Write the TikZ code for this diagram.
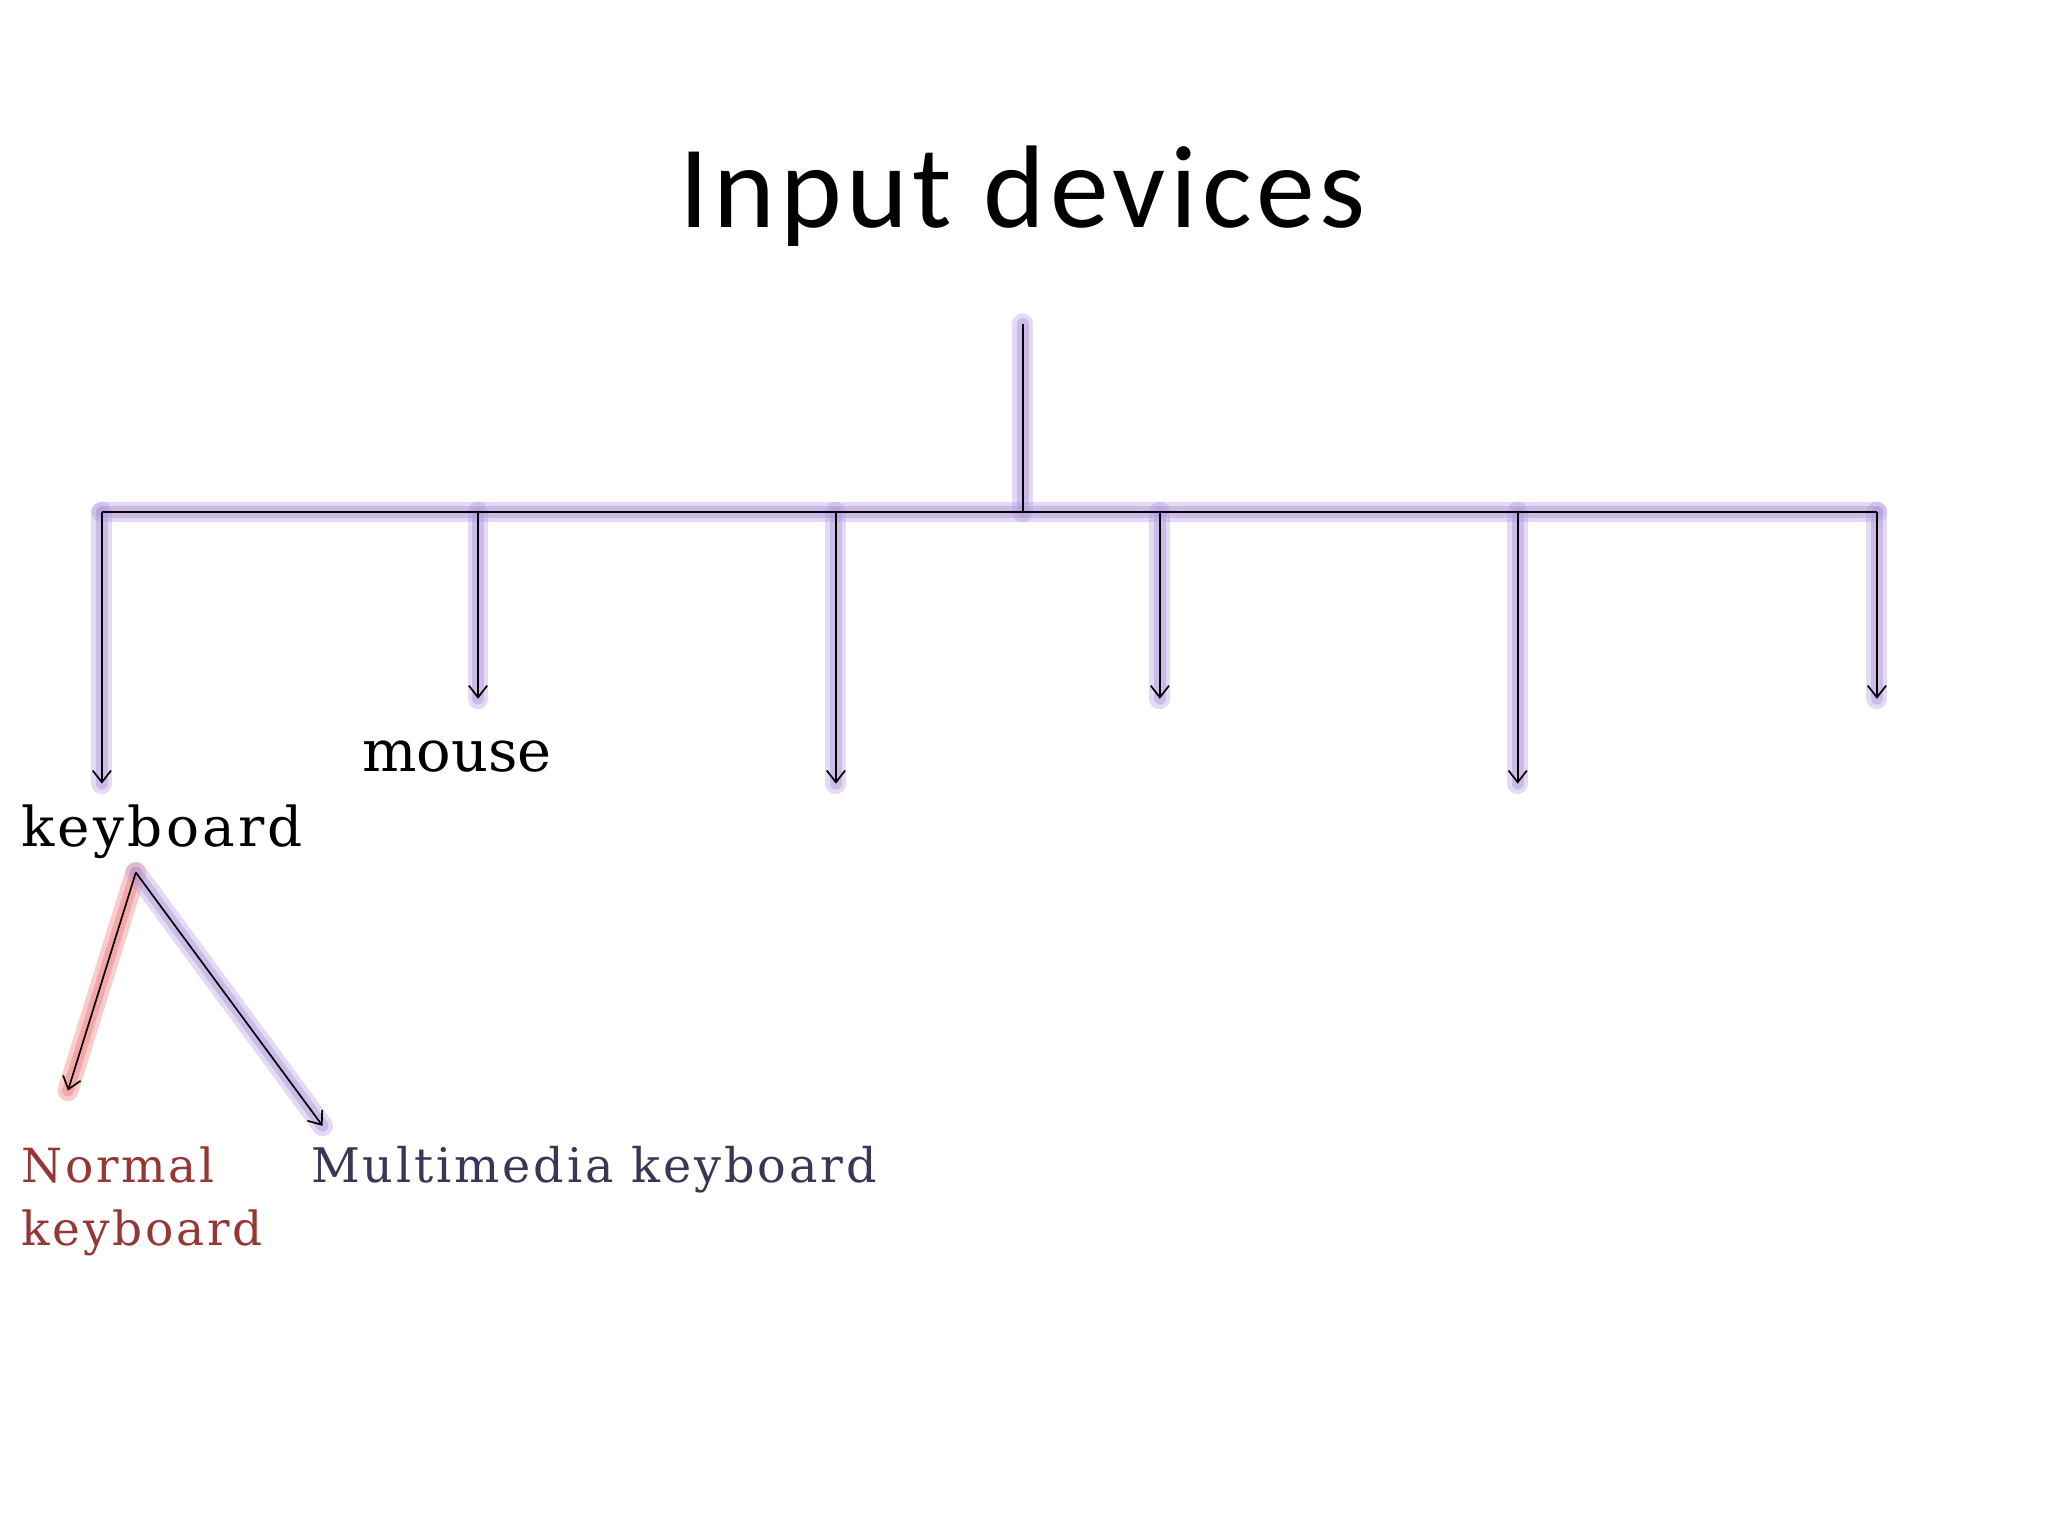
\documentclass[tikz,border=0pt]{standalone}
\usepackage{fontspec}
\setmainfont{Liberation Serif}
\newfontfamily\titlefont[LetterSpace=4]{Carlito}
\newfontfamily\serifsp[LetterSpace=6]{DejaVu Serif}
\newfontfamily\serifn{DejaVu Serif}
\usetikzlibrary{arrows.meta}
\definecolor{glowp}{RGB}{175,150,220}
\definecolor{glowr}{RGB}{240,130,130}
\definecolor{redtxt}{RGB}{149,55,53}
\definecolor{navytxt}{RGB}{59,53,88}
\begin{document}
\begin{tikzpicture}[x=1pt,y=-1pt,
  glow/.style={line width=16pt,draw=glowp,opacity=0.35,line cap=round,
    postaction={draw=glowp,line width=9pt,opacity=0.45}},
  glowred/.style={line width=16pt,draw=glowr,opacity=0.4,line cap=round,
    postaction={draw=glowr,line width=9pt,opacity=0.5}},
  conn/.style={line width=1.3pt,black},
  arr/.style={conn,-{Straight Barb[length=9pt,width=14pt]}},
  lab/.style={inner sep=0pt,anchor=base west}]
\useasboundingbox (0,0) rectangle (1568,1176);
\node[inner sep=0pt] (title) at (783,150) {\titlefont\fontsize{90}{100}\selectfont Input devices};
\coordinate (top) at (783,248);
\coordinate (mid) at (783,392);
\coordinate (L) at (78,392);
\coordinate (R) at (1437,392);
\foreach \n/\x in {a/78,b/366,c/640,d/888,e/1162,f/1437}{\coordinate (h\n) at (\x,392);}
\coordinate (ea) at (78,600);
\coordinate (eb) at (366,535);
\coordinate (ec) at (640,600);
\coordinate (ed) at (888,535);
\coordinate (ee) at (1162,600);
\coordinate (ef) at (1437,535);
\draw[glow] (top) -- (mid);
\draw[glow] (L) -- (R);
\foreach \n in {a,b,c,d,e,f}{\draw[glow] (h\n) -- (e\n);}
\draw[conn] (top) -- (mid);
\draw[conn] (L) -- (R);
\foreach \n in {a,b,c,d,e,f}{\draw[arr] (h\n) -- (e\n);}
\node[lab] (mouse) at (277,591) {\serifn\fontsize{44}{50}\selectfont mouse};
\node[lab] (kb) at (16,648) {\serifsp\fontsize{42}{48}\selectfont keyboard};
\coordinate (kp) at (104,668);
\coordinate (nk) at (52,835);
\coordinate (mk) at (247,862);
\draw[glowred] (kp) -- (nk);
\draw[glow] (kp) -- (mk);
\draw[arr] (kp) -- (nk);
\draw[arr] (kp) -- (mk);
\node[lab,text=redtxt,align=left,anchor=north west,font=\serifsp\fontsize{36}{48}\selectfont] (normal) at (16,878) {Normal\\keyboard};
\node[lab,text=navytxt] (multi) at (238,905) {\serifsp\fontsize{36.5}{40}\selectfont Multimedia keyboard};
\end{tikzpicture}
\end{document}
